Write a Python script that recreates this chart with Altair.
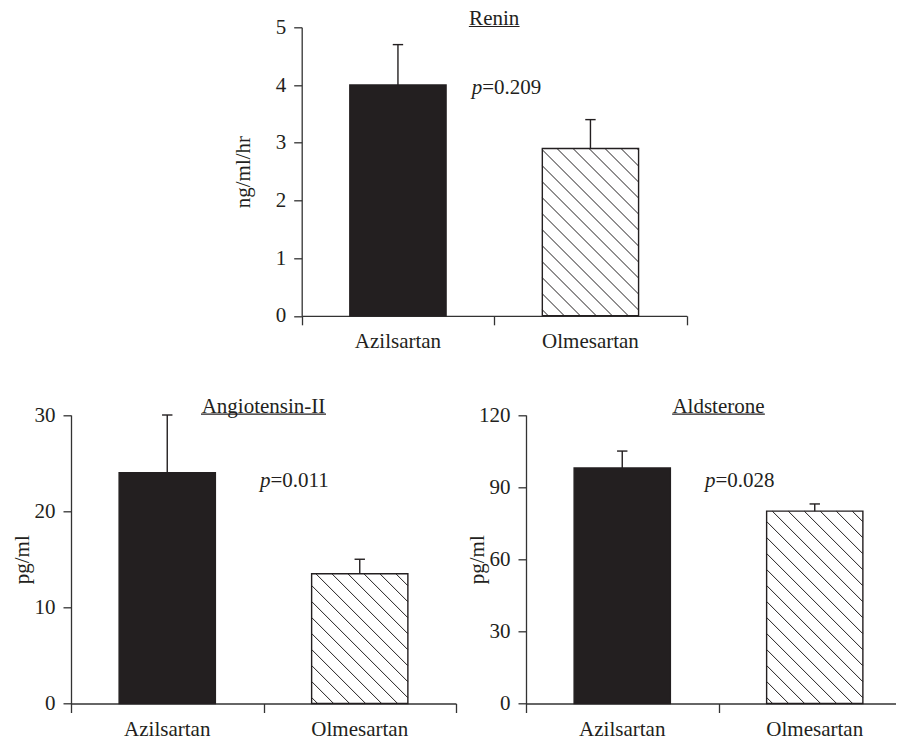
import altair as alt
import numpy as np
import pandas as pd

# ---------------- data ----------------
groups = ["Azilsartan", "Olmesartan"]
renin_mean = [4.0, 2.9]
renin_upper = [4.7, 3.4]
angio_mean = [24.0, 13.5]
angio_upper = [30.0, 15.0]
aldo_mean = [98.0, 80.0]
aldo_upper = [105.0, 83.0]
panel_titles = ["Renin", "Angiotensin-II", "Aldsterone"]
y_titles = ["ng/ml/hr", "pg/ml", "pg/ml"]
y_max = [5, 30, 120]
y_ticks = [[0, 1, 2, 3, 4, 5], [0, 10, 20, 30], [0, 30, 60, 90, 120]]
p_values = ["=0.209", "=0.011", "=0.028"]

# ---------------- layout / style ----------------
FONT = "Liberation Serif"
INK = "#231f20"
AX = "#333333"
FS = 21
STEP = 192.5          # px per category slot
H = 288.5             # panel plot height
ROW2 = 387.7          # y offset of bottom row panels inside the view
VIEW_W = 825
VIEW_H = ROW2 + H
HALF_BAR = 0.25
HALF_CAP = 0.027
HATCH_GAP = 16.0


def hatch_rows(x0, x1, top, sy):
    wb = (x1 - x0) * STEP
    hb = top * sy
    rows = []
    for c in np.arange(6.0, wb + hb, HATCH_GAP):
        u0 = max(0.0, c - hb)
        u1 = min(wb, c)
        if u1 - u0 < 0.5:
            continue
        rows.append({"hx0": x0 + u0 / STEP, "hy0": (c - u0) / sy,
                     "hx1": x0 + u1 / STEP, "hy1": (c - u1) / sy})
    return pd.DataFrame(rows)


def panel(mean, upper, title, ytitle, ymax, yticks, ptxt, ox, oy, width,
          ytitle_x, uline_w, p_xy):
    pos = [0.5, 1.5]
    df = pd.DataFrame({
        "group": groups, "pos": pos, "mean": mean, "upper": upper,
        "kind": ["solid", "hatch"], "zero": [0, 0],
    })
    df["x0"] = df["pos"] - HALF_BAR
    df["x1"] = df["pos"] + HALF_BAR
    df["c0"] = df["pos"] - HALF_CAP
    df["c1"] = df["pos"] + HALF_CAP

    xmax = width / STEP
    xs = alt.Scale(domain=[0, xmax], range=[ox, ox + width], nice=False,
                   zero=False)
    ys = alt.Scale(domain=[0, ymax], range=[oy + H, oy], nice=False)
    xaxis = alt.Axis(values=[v for v in [0, 1, 2] if v <= xmax + 1e-9],
                     orient="bottom", offset=-(VIEW_H - oy - H),
                     labels=False, title=None, grid=False, tickSize=9,
                     domainColor=AX, tickColor=AX, domainWidth=1.3,
                     tickWidth=1.3)
    yaxis = alt.Axis(values=yticks, format="d", orient="left", offset=-ox,
                     grid=False, tickSize=8, labelPadding=8,
                     labelFont=FONT, labelFontSize=FS, labelColor=INK,
                     domainColor=AX, tickColor=AX, domainWidth=1.3,
                     tickWidth=1.3, title=ytitle, titleFont=FONT,
                     titleFontSize=FS, titleFontWeight="normal",
                     titleColor=INK, titleAngle=270, titleX=ytitle_x,
                     titleY=oy + H / 2, titleAlign="center",
                     titleBaseline="alphabetic")

    base = alt.Chart(df)
    fills = base.mark_rect().encode(
        x=alt.X("x0:Q", scale=xs, axis=xaxis), x2="x1:Q",
        y=alt.Y("zero:Q", scale=ys, axis=yaxis), y2="mean:Q",
        fill=alt.Fill("kind:N", scale=alt.Scale(domain=["solid", "hatch"],
                                                range=[INK, "white"]),
                      legend=None),
    )
    hb = df[df["kind"] == "hatch"].iloc[0]
    hdf = hatch_rows(hb["x0"], hb["x1"], hb["mean"], H / ymax)
    hatch = alt.Chart(hdf).mark_rule(color=INK, strokeWidth=1.0).encode(
        x=alt.X("hx0:Q", scale=xs), x2="hx1:Q",
        y=alt.Y("hy0:Q", scale=ys), y2="hy1:Q",
    )
    outline = base.mark_rect(fillOpacity=0, stroke=INK, strokeWidth=1.4).encode(
        x=alt.X("x0:Q", scale=xs), x2="x1:Q",
        y=alt.Y("zero:Q", scale=ys), y2="mean:Q",
    )
    whisk = base.mark_rule(color=INK, strokeWidth=1.4).encode(
        x=alt.X("pos:Q", scale=xs), y=alt.Y("mean:Q", scale=ys), y2="upper:Q",
    )
    cap = base.mark_rule(color=INK, strokeWidth=1.4).encode(
        x=alt.X("c0:Q", scale=xs), x2="c1:Q", y=alt.Y("upper:Q", scale=ys),
    )
    xlab = base.mark_text(font=FONT, fontSize=FS, color=INK,
                          baseline="alphabetic").encode(
        x=alt.X("pos:Q", scale=xs), y=alt.value(oy + H + 32), text="group:N",
    )
    tdf = pd.DataFrame({"t": [title], "p": ["p"], "v": [ptxt]})
    tbase = alt.Chart(tdf)
    ttl = tbase.mark_text(font=FONT, fontSize=FS, color=INK,
                          baseline="alphabetic").encode(
        x=alt.value(ox + STEP), y=alt.value(oy - 2.5), text="t:N")
    uline = tbase.mark_rule(color=INK, strokeWidth=1.2).encode(
        x=alt.value(ox + STEP - uline_w / 2),
        x2=alt.value(ox + STEP + uline_w / 2),
        y=alt.value(oy - 0.8))
    pit = tbase.mark_text(font=FONT, fontSize=FS, color=INK, fontStyle="italic",
                          align="left", baseline="alphabetic").encode(
        x=alt.value(ox + p_xy[0]), y=alt.value(oy + p_xy[1]), text="p:N")
    pval = tbase.mark_text(font=FONT, fontSize=FS, color=INK, align="left",
                           baseline="alphabetic").encode(
        x=alt.value(ox + p_xy[0] + 10.5), y=alt.value(oy + p_xy[1]),
        text="v:N")
    return alt.layer(fills, hatch, outline, whisk, cap, xlab, ttl, uline,
                     pit, pval)


top = panel(renin_mean, renin_upper, panel_titles[0], y_titles[0], y_max[0],
            y_ticks[0], p_values[0], 230.7, 0, 385, -52.7, 50.7, (170, 66.7))
bl = panel(angio_mean, angio_upper, panel_titles[1], y_titles[1], y_max[1],
           y_ticks[1], p_values[1], 0, ROW2, 385, -42.7, 125, (189, 71.7))
br = panel(aldo_mean, aldo_upper, panel_titles[2], y_titles[2], y_max[2],
           y_ticks[2], p_values[2], 455, ROW2, 370, -42.7, 92.7, (179, 71.7))

chart = alt.layer(top, bl, br).resolve_scale(
    x="independent", y="independent"
).properties(
    width=VIEW_W, height=VIEW_H,
    autosize=alt.AutoSizeParams(type="none"),
    padding={"left": 63, "top": 19.3, "right": 0, "bottom": 42},
).configure_view(stroke=None)

chart.save("out.html", embed_options={"renderer": "svg", "actions": False})
